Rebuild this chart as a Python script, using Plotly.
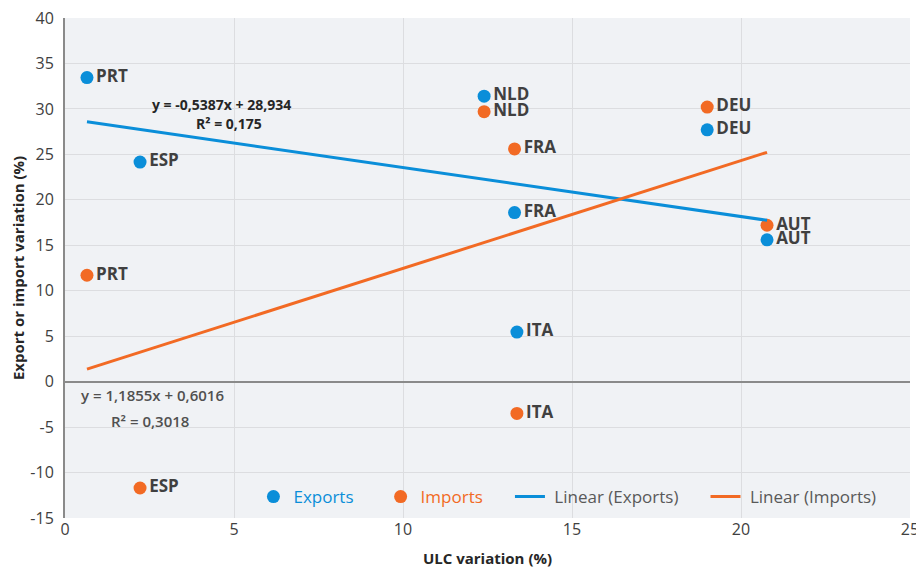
import plotly.graph_objects as go

countries = ["PRT", "ESP", "NLD", "FRA", "ITA", "DEU", "AUT"]
ulc = [0.65, 2.22, 12.4, 13.3, 13.37, 19.0, 20.77]
exports = [33.45, 24.15, 31.4, 18.6, 5.45, 27.7, 15.6]
imports = [11.7, -11.7, 29.7, 25.6, -3.5, 30.2, 17.2]

exp_coef = [-0.5387, 28.934]
imp_coef = [1.1855, 0.6016]
exp_eq = ["y = -0,5387x + 28,934", "R² = 0,175"]
imp_eq = ["y = 1,1855x + 0,6016", "R² = 0,3018"]

x_ticks = [0, 5, 10, 15, 20, 25]
y_ticks = [-15, -10, -5, 0, 5, 10, 15, 20, 25, 30, 35, 40]

BLUE = "#0a8ed9"
ORANGE = "#f26a24"
TXT = "#404040"
FONT = "Open Sans"
NB = "\u00a0"

xl = [min(ulc), max(ulc)]

fig = go.Figure()
lab_font = dict(family=FONT, size=17, color=TXT, weight="bold")
fig.add_trace(go.Scatter(
    x=ulc, y=exports, mode="markers+text", text=countries,
    textposition="middle right", textfont=lab_font,
    marker=dict(color=BLUE, size=13),
    name="<span style='color:%s'>Exports</span>" % BLUE + NB * 5,
))
fig.add_trace(go.Scatter(
    x=ulc, y=imports, mode="markers+text", text=countries,
    textposition="middle right", textfont=lab_font,
    marker=dict(color=ORANGE, size=13),
    name="<span style='color:%s'>Imports</span>" % ORANGE + NB * 5,
))
fig.add_trace(go.Scatter(
    x=xl, y=[exp_coef[0] * v + exp_coef[1] for v in xl], mode="lines",
    line=dict(color=BLUE, width=3), name=NB + "Linear (Exports)" + NB * 5,
))
fig.add_trace(go.Scatter(
    x=xl, y=[imp_coef[0] * v + imp_coef[1] for v in xl], mode="lines",
    line=dict(color=ORANGE, width=3), name=NB + "Linear (Imports)",
))

eq_b = dict(family=FONT, size=14, color="#262626", weight="bold")
eq_n = dict(family=FONT, size=15, color="#505050", weight=600)
fig.add_annotation(x=4.63, y=30.45, text=exp_eq[0], showarrow=False, font=eq_b)
fig.add_annotation(x=4.85, y=28.35, text=exp_eq[1], showarrow=False, font=eq_b)
fig.add_annotation(x=2.6, y=-1.5, text=imp_eq[0], showarrow=False, font=eq_n)
fig.add_annotation(x=2.5, y=-4.3, text=imp_eq[1], showarrow=False, font=eq_n)

fig.update_layout(
    width=916, height=560,
    margin=dict(l=57, r=14, t=10, b=50, autoexpand=False),
    paper_bgcolor="white", plot_bgcolor="#f0f2f5",
    font=dict(family=FONT, size=16, color=TXT),
    showlegend=True,
    legend=dict(orientation="h", x=0.223, y=0.042, xanchor="left", yanchor="middle",
                bgcolor="rgba(0,0,0,0)", font=dict(family=FONT, size=17, color="#595959")),
    xaxis=dict(range=[0, 25], tickvals=x_ticks, ticktext=[str(v) for v in x_ticks],
               showgrid=True, gridcolor="#dcdde0", gridwidth=1, automargin=False,
               zeroline=False, showline=False, ticks="", ticklabeloverflow="allow",
               tickfont=dict(family=FONT, size=16, color=TXT),
               title=dict(text="<b>ULC variation (%)</b>", font=dict(family=FONT, size=15, color="#262626"), standoff=14)),
    yaxis=dict(range=[-15, 40], tickvals=y_ticks, ticktext=[str(v) for v in y_ticks],
               showgrid=True, gridcolor="#dcdde0", gridwidth=1, automargin=False,
               zeroline=True, zerolinecolor="#8a8a8a", zerolinewidth=2,
               showline=True, linecolor="#8a8a8a", linewidth=2, ticks="",
               ticklabelstandoff=6, ticklabeloverflow="allow",
               tickfont=dict(family=FONT, size=16, color=TXT),
               title=dict(text="<b>Export or import variation (%)</b>", font=dict(family=FONT, size=15, color="#262626"), standoff=12)),
)

fig.write_html("out.html")
